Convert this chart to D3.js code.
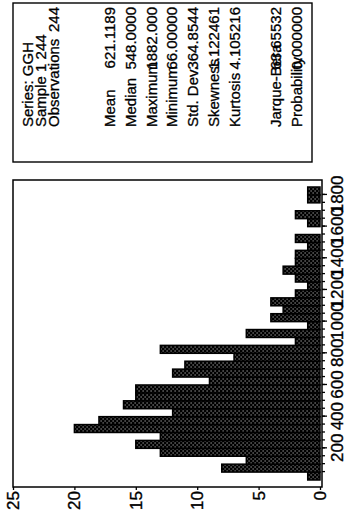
<!DOCTYPE html>
<html><head><meta charset="utf-8">
<script src="https://cdn.jsdelivr.net/npm/d3@7"></script>
<style>html,body{margin:0;padding:0;background:#fff;} svg{display:block;}</style>
</head><body>
<svg id="c" width="347" height="514"></svg>
<script>
// ---- data ----
const binLower = [0,50,100,150,200,250,300,350,400,450,500,550,600,650,700,750,800,850,900,950,1000,1050,1100,1150,1200,1250,1300,1350,1400,1450,1500,1550,1600,1650,1700,1750,1800];
const binUpper = [50,100,150,200,250,300,350,400,450,500,550,600,650,700,750,800,850,900,950,1000,1050,1100,1150,1200,1250,1300,1350,1400,1450,1500,1550,1600,1650,1700,1750,1800,1850];
const counts   = [1,8,6,13,15,13,20,18,12,16,15,15,9,12,11,7,13,2,6,1,4,3,4,2,1,2,3,2,2,1,2,0,1,2,0,1,1];
const valueTicks = [200,400,600,800,1000,1200,1400,1600,1800];
const freqTicks = [0,5,10,15,20,25];
const headerLines = ["Series: GGH","Sample 1 244"];
const statLabels = ["Observations","Mean","Median","Maximum","Minimum","Std. Dev.","Skewness","Kurtosis","Jarque-Bera","Probability"];
const statValues = ["244","621.1189","548.0000","1882.000","66.00000","364.8544","1.122461","4.105216","63.65532","0.000000"];

// ---- drawing ----
const FONT = "'Liberation Sans', Arial, sans-serif";
const svg = d3.select("#c");
const defs = svg.append("defs");
const pat = defs.append("pattern").attr("id","dots").attr("patternUnits","userSpaceOnUse")
  .attr("width",4).attr("height",4);
pat.append("rect").attr("width",4).attr("height",4).attr("fill","#000");
pat.append("circle").attr("cx",1).attr("cy",1).attr("r",0.6).attr("fill","#fff");
pat.append("circle").attr("cx",3).attr("cy",3).attr("r",0.6).attr("fill","#fff");

// whole chart drawn unrotated then turned -90deg
const g = svg.append("g").attr("transform","translate(0,514) rotate(-90)");

const x = d3.scaleLinear().domain([0,1850]).range([34,327]);   // value axis
const y = d3.scaleLinear().domain([0,25]).range([320,13]);     // frequency axis

// bars
g.append("g").selectAll("rect").data(counts.map((c,i)=>({c,lo:binLower[i],hi:binUpper[i]})).filter(d=>d.c>0))
  .join("rect")
  .attr("x",d=>x(d.lo)).attr("width",d=>x(d.hi)-x(d.lo))
  .attr("y",d=>y(d.c)).attr("height",d=>y(0)-y(d.c))
  .attr("fill","url(#dots)").attr("stroke","#000").attr("stroke-width",1.5);

// frame
g.append("rect").attr("x",27).attr("y",13).attr("width",307).attr("height",309)
  .attr("fill","none").attr("stroke","#000").attr("stroke-width",1.5);

// value axis (minor ticks)
const minor = g.append("g").attr("transform","translate(0,322)")
  .call(d3.axisBottom(x).tickValues(binLower.filter(v=>v>0)).tickSize(3).tickFormat(""));
minor.select(".domain").remove();
const xa = g.append("g").attr("transform","translate(0,322)")
  .call(d3.axisBottom(x).tickValues(valueTicks).tickSize(5).tickPadding(4).tickFormat(d3.format("d")));
xa.select(".domain").remove();
xa.selectAll("text").attr("font-family",FONT).attr("font-size",17).attr("fill","#000")
  .attr("stroke","#000").attr("stroke-width",0.35);
svg.selectAll("line").attr("stroke","#000").attr("stroke-width",1.3);

// frequency axis
const ya = g.append("g").attr("transform","translate(27,0)")
  .call(d3.axisLeft(y).tickValues(freqTicks).tickSize(3).tickPadding(1));
ya.select(".domain").remove();
ya.selectAll("text").attr("font-family",FONT).attr("font-size",17).attr("fill","#000")
  .attr("stroke","#000").attr("stroke-width",0.35);
ya.selectAll("line").attr("stroke","#000").attr("stroke-width",1.3);

// stats box
g.append("rect").attr("x",352).attr("y",13).attr("width",159).attr("height",299)
  .attr("fill","none").attr("stroke","#000").attr("stroke-width",1.4);
const tb = g.append("g").attr("font-family",FONT).attr("font-size",15).attr("fill","#000")
  .attr("stroke","#000").attr("stroke-width",0.3);
headerLines.forEach((t,i)=>{
  tb.append("text").attr("x",387).attr("y",33+13*i).text(t);
});
const rowPos = i => i===0 ? 59 : (i<8 ? 115+20.8*(i-1) : 115+20.8*i);
statLabels.forEach((t,i)=>{
  tb.append("text").attr("x",387).attr("y",rowPos(i)).text(t);
  tb.append("text").attr("x",507).attr("y",rowPos(i)).attr("text-anchor","end").text(statValues[i]);
});
</script>
</body></html>
